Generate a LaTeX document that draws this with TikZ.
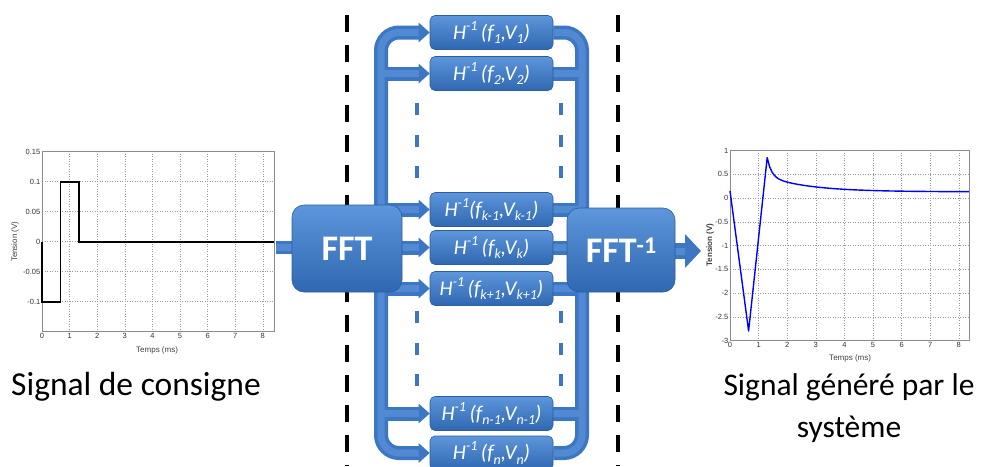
\documentclass[tikz,border=0pt]{standalone}
\usepackage{fontspec}
\setmainfont{Carlito}
\newfontfamily\plotfont{Liberation Sans}
\usetikzlibrary{arrows.meta,backgrounds}
\definecolor{tubeD}{HTML}{3D77C4}
\definecolor{tubeL}{HTML}{5289D3}
\definecolor{boxT}{HTML}{5E96DC}
\definecolor{boxB}{HTML}{2F67B1}
\definecolor{boxE}{HTML}{2B5D9F}
\definecolor{gridc}{HTML}{9A9A9A}
\definecolor{framec}{HTML}{8C8C8C}
\newcommand\hsup[1]{\raisebox{0.42em}{\fontsize{14}{14}\selectfont #1}}
\newcommand\hsub[1]{\raisebox{-0.22em}{\fontsize{14}{14}\selectfont #1}}
\begin{document}
\begin{tikzpicture}[x=1pt,y=-1pt,
  hbox/.style={rectangle, rounded corners=5pt, minimum width=123pt, minimum height=34pt,
    top color=boxT, bottom color=boxB, draw=boxE, line width=0.6pt, text=white,
    font=\fontsize{21}{21}\selectfont\itshape, inner sep=0pt},
  bigbox/.style={rectangle, rounded corners=12pt, top color=boxT, bottom color=boxB,
    draw=boxE, line width=0.6pt, text=white, font=\fontsize{36}{36}\selectfont\bfseries, inner sep=0pt},
  tubeA/.style={draw=tubeD, line width=14pt},
  tubeB/.style={draw=tubeL, line width=7pt},
  tip/.style={-{Triangle[width=19pt,length=11pt]}},
  tips/.style={{Triangle[width=19pt,length=11pt]}-{Triangle[width=19pt,length=11pt]}},
  ticklab/.style={font=\plotfont\fontsize{7.5}{8}\selectfont, text=black!80, inner sep=1.5pt},
  axlab/.style={font=\plotfont\fontsize{8}{9}\selectfont, text=black!75},
  biglab/.style={font=\fontsize{33.5}{35}\selectfont, inner sep=0pt},
  gridline/.style={draw=gridc, dotted, line width=0.5pt},
  vdash/.style={line width=3.5pt, dash pattern=on 17pt off 13pt},
  minidash/.style={draw=tubeD, line width=4.5pt, dash pattern=on 12pt off 19.5pt}]
\useasboundingbox (0,0) rectangle (981,466);

% ---------- processing blocks ----------
\node[bigbox, minimum width=110pt, minimum height=87pt] (fft) at (347,248.5) {FFT};
\node[bigbox, minimum width=108pt, minimum height=84pt] (ifft) at (621,250) {FFT\raisebox{9pt}{\fontsize{24}{24}\selectfont -1}};

\node[hbox] (h1)  at (491.5,32.5)  {H\hsup{-1}\,(f\hsub{1},V\hsub{1})};
\node[hbox] (h2)  at (491.5,73.5)  {H\hsup{-1}\,(f\hsub{2},V\hsub{2})};
\node[hbox] (hkm) at (491.5,209.5) {H\hsup{-1}(f\hsub{k-1},V\hsub{k-1})};
\node[hbox] (hk)  at (491.5,247.5) {H\hsup{-1}\,(f\hsub{k},V\hsub{k})};
\node[hbox] (hkp) at (491.5,288.5) {H\hsup{-1}\,(f\hsub{k+1},V\hsub{k+1})};
\node[hbox] (hnm) at (491.5,413.5) {H\hsup{-1}\,(f\hsub{n-1},V\hsub{n-1})};
\node[hbox] (hn)  at (491.5,453)   {H\hsup{-1}\,(f\hsub{n},V\hsub{n})};

\coordinate (busL) at (381,0);
\coordinate (busR) at (582,0);
\coordinate (inL) at (276,247);
\coordinate (outR) at (701,251);

\begin{pgfonlayer}{background}
  % dashed separators
  \draw[vdash] (347,15) -- (347,466);
  \draw[vdash] (618,15) -- (618,466);
  % dark tubes
  \draw[tubeA, rounded corners=18pt, tips] (h1.west) -- (h1.west -| busL) -- (hn.west -| busL) -- (hn.west);
  \draw[tubeA, rounded corners=18pt] (h1.east) -- (h1.east -| busR) -- (hn.east -| busR) -- (hn.east);
  \foreach \n in {h2,hkm,hkp,hnm}{
    \draw[tubeA, tip] (\n.west -| busL) -- (\n.west);
    \draw[tubeA] (\n.east) -- (\n.east -| busR);
  }
  \draw[tubeA, tip] (hk.west -| fft.center) -- (hk.west);
  \draw[tubeA] (hk.east) -- (hk.east -| ifft.center);
  \draw[tubeA, line width=13pt] (inL) -- (inL -| fft.center);
  \draw[tubeA, line width=16pt, -{Triangle[width=33pt,length=16pt]}] (ifft.center |- outR) -- (outR);
  % light highlights
  \draw[tubeB, rounded corners=18pt, shorten <=11pt, shorten >=11pt] (h1.west) -- (h1.west -| busL) -- (hn.west -| busL) -- (hn.west);
  \draw[tubeB, rounded corners=18pt] (h1.east) -- (h1.east -| busR) -- (hn.east -| busR) -- (hn.east);
  \foreach \n in {h2,hkm,hkp,hnm}{
    \draw[tubeB, shorten >=11pt] (\n.west -| busL) -- (\n.west);
    \draw[tubeB] (\n.east) -- (\n.east -| busR);
  }
  \draw[tubeB, shorten >=11pt] (hk.west -| fft.center) -- (hk.west);
  \draw[tubeB] (hk.east) -- (hk.east -| ifft.center);
  \draw[tubeB] (inL) -- (inL -| fft.center);
  \draw[tubeB, shorten >=16pt] (ifft.center |- outR) -- (outR);
  % ellipsis dashes
  \draw[minidash] (417,103) -- (417,180);
  \draw[minidash] (561,103) -- (561,180);
  \draw[minidash] (417,311) -- (417,388);
  \draw[minidash] (561,311) -- (561,388);
\end{pgfonlayer}

% ---------- left plot ----------
\begin{scope}[shift={(42,241.7)}, x=27.6pt, y=600pt]
  \foreach \t in {1,...,8} \draw[gridline] (\t,-0.15) -- (\t,0.15);
  \foreach \v in {-0.1,-0.05,0,0.05,0.1} \draw[gridline] (0,\v) -- (8.4,\v);
  \draw[framec, line width=0.6pt] (0,-0.15) rectangle (8.4,0.15);
  \foreach \t in {0,...,8} \node[ticklab, anchor=north] at (\t,-0.15) {\t};
  \foreach \v/\l in {0.15/0.15,0.1/0.1,0.05/0.05,0/0,-0.05/-0.05,-0.1/-0.1}
    \node[ticklab, anchor=east] at (0,\v) {\l};
  \draw[black, line width=1.6pt] (0,0) -- (0,-0.1) -- (0.67,-0.1) -- (0.67,0.1) -- (1.33,0.1) -- (1.33,0) -- (8.4,0);
  \node[axlab, rotate=90] (ylabL) at (-0.98,0) {Tension (V)};
  \node[axlab] (xlabL) at (4.17,-0.181) {Temps (ms)};
\end{scope}

% ---------- right plot ----------
\begin{scope}[shift={(730,198)}, x=28.6pt, y=47.5pt]
  \foreach \t in {1,...,8} \draw[gridline] (\t,-3) -- (\t,1);
  \foreach \v in {-2.5,-2,-1.5,-1,-0.5,0,0.5} \draw[gridline] (0,\v) -- (8.35,\v);
  \draw[framec, line width=0.6pt] (0,-3) rectangle (8.35,1);
  \foreach \t in {0,...,8} \node[ticklab, anchor=north] at (\t,-3) {\t};
  \foreach \v in {1,0.5,0,-0.5,-1,-1.5,-2,-2.5,-3}
    \node[ticklab, anchor=east] at (0,\v) {\v};
  \draw[blue, line width=1.4pt, line join=round] (0,0.15) -- (0.65,-2.8) -- (1.3,0.85)
    -- plot[domain=1.3:8.35, samples=90] (\x,{0.13+0.4*exp(-(\x-1.3)/0.15)+0.32*exp(-(\x-1.3)/1.5)});
  \node[axlab, rotate=90, font=\plotfont\bfseries\fontsize{8}{9}\selectfont] (ylabR) at (-0.7,-0.99) {Tension (V)};
  \node[axlab] (xlabR) at (4.2,-3.37) {Temps (ms)};
\end{scope}

% ---------- captions ----------
\node[biglab, anchor=base] (capL) at (136,395) {Signal de consigne};
\node[biglab, anchor=base, font=\fontsize{31.5}{33}\selectfont] (capR1) at (849,395) {Signal généré par le};
\node[biglab, anchor=base, font=\fontsize{31.5}{33}\selectfont] (capR2) at (849,437) {système};
\end{tikzpicture}
\end{document}
